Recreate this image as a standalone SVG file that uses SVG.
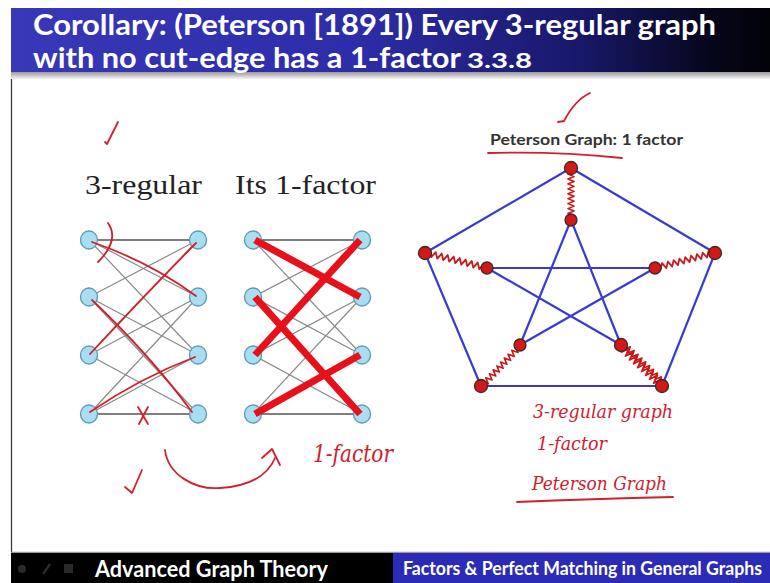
<svg xmlns="http://www.w3.org/2000/svg" width="770" height="583" viewBox="0 0 770 583">
<defs>
<linearGradient id="titleGrad" x1="0" y1="0" x2="1" y2="0">
<stop offset="0" stop-color="#3838b8"/>
<stop offset="0.45" stop-color="#2d2daa"/>
<stop offset="0.75" stop-color="#18186a"/>
<stop offset="0.92" stop-color="#06061c"/>
<stop offset="1" stop-color="#020208"/>
</linearGradient>
<linearGradient id="shadowGrad" x1="0" y1="0" x2="0" y2="1">
<stop offset="0" stop-color="#9a9a9a"/>
<stop offset="1" stop-color="#f4f4f4"/>
</linearGradient>
<path id="zz" d="M0 0 L2 -3 L5 3 L8 -3 L11 3 L14 -3 L17 3 L20 -3 L23 3 L26 -3 L29 3 L32 -3 L35 3 L38 -3 L41 3 L44 -3 L47 3 L50 -3 L53 3 L56 -3 L58 2 L60 0"/>
</defs>
<style>
.title{font-family:Lato,"Open Sans",sans-serif;font-weight:bold;fill:#ffffff}
.serif{font-family:"Liberation Serif","Times New Roman",serif;fill:#222222}
.hand{font-family:"DejaVu Serif","Liberation Serif",serif;font-style:italic;fill:#d0202c}
.ink{fill:none;stroke:#d0202c;stroke-width:1.8;stroke-linecap:round;stroke-linejoin:round}
.gedge{stroke:#8a8a8a;stroke-width:1.2}
.hedge{stroke:#555555;stroke-width:1.6}
.bnode{fill:#a9def2;stroke:#5f9cb3;stroke-width:1.4}
.fact{stroke:#e8101a;stroke-width:7}
.pedge{stroke:#3a3ad2;stroke-width:2.2}
.pnode{fill:#d41818;stroke:#3a2a2a;stroke-width:1.3}
.spoke{fill:none;stroke:#c81a1a;stroke-width:1.8;stroke-linejoin:round}
</style>
<rect width="770" height="583" fill="#ffffff"/>
<!-- title bar -->
<rect x="11" y="8" width="759" height="64" fill="url(#titleGrad)"/>
<rect x="11" y="72" width="759" height="7" fill="url(#shadowGrad)"/>
<text class="title" x="33" y="35" font-size="29" textLength="683" lengthAdjust="spacingAndGlyphs">Corollary: (Peterson [1891]) Every 3-regular graph</text>
<text class="title" x="33" y="68" font-size="29" textLength="428" lengthAdjust="spacingAndGlyphs">with no cut-edge has a 1-factor</text>
<text class="title" x="467" y="68" font-size="20" textLength="65" lengthAdjust="spacingAndGlyphs">3.3.8</text>
<!-- content border -->
<line x1="11.5" y1="79" x2="11.5" y2="552" stroke="#333333" stroke-width="1.2"/>
<line x1="11" y1="552.5" x2="770" y2="552.5" stroke="#9a9a9a" stroke-width="1.5"/>
<!-- bottom bar -->
<rect x="11" y="553" width="382" height="30" fill="#000000"/>
<rect x="393" y="553" width="377" height="30" fill="#2b2bb6"/>
<circle cx="22" cy="569" r="4" fill="#2a2a2a"/>
<line x1="43" y1="574" x2="50" y2="564" stroke="#2a2a2a" stroke-width="2.5"/>
<rect x="64" y="564" width="9" height="9" fill="#2a2a2a"/>
<text class="title" x="95" y="577" font-size="23" textLength="233" lengthAdjust="spacingAndGlyphs">Advanced Graph Theory</text>
<text class="title" x="403" y="575" font-size="18" textLength="359" lengthAdjust="spacingAndGlyphs">Factors &amp; Perfect Matching in General Graphs</text>

<!-- left graph labels -->
<text class="serif" x="85" y="194" font-size="28" textLength="117" lengthAdjust="spacingAndGlyphs">3-regular</text>
<text class="serif" x="235" y="194" font-size="28" textLength="141" lengthAdjust="spacingAndGlyphs">Its 1-factor</text>

<!-- connectors -->
<g id="connectors">
<g id="edges-3regular">
<line class="hedge" x1="89" y1="240" x2="198" y2="240"/>
<line class="gedge" x1="89" y1="240" x2="198" y2="297"/>
<line class="gedge" x1="89" y1="240" x2="198" y2="355"/>
<line class="gedge" x1="89" y1="297" x2="198" y2="240"/>
<line class="gedge" x1="89" y1="297" x2="198" y2="355"/>
<line class="gedge" x1="89" y1="297" x2="198" y2="414"/>
<line class="gedge" x1="89" y1="355" x2="198" y2="240"/>
<line class="gedge" x1="89" y1="355" x2="198" y2="297"/>
<line class="gedge" x1="89" y1="355" x2="198" y2="414"/>
<line class="gedge" x1="89" y1="414" x2="198" y2="297"/>
<line class="gedge" x1="89" y1="414" x2="198" y2="355"/>
<line class="hedge" x1="89" y1="414" x2="198" y2="414"/>
</g>
<g id="edges-1factor">
<line class="hedge" x1="253" y1="240" x2="362" y2="240"/>
<line class="gedge" x1="253" y1="240" x2="362" y2="297"/>
<line class="gedge" x1="253" y1="240" x2="362" y2="355"/>
<line class="gedge" x1="253" y1="297" x2="362" y2="240"/>
<line class="gedge" x1="253" y1="297" x2="362" y2="355"/>
<line class="gedge" x1="253" y1="297" x2="362" y2="414"/>
<line class="gedge" x1="253" y1="355" x2="362" y2="240"/>
<line class="gedge" x1="253" y1="355" x2="362" y2="297"/>
<line class="gedge" x1="253" y1="355" x2="362" y2="414"/>
<line class="gedge" x1="253" y1="414" x2="362" y2="297"/>
<line class="gedge" x1="253" y1="414" x2="362" y2="355"/>
<line class="hedge" x1="253" y1="414" x2="362" y2="414"/>
</g>
<g id="edges-petersen">
<line class="pedge" x1="571" y1="168" x2="425" y2="253"/>
<line class="pedge" x1="425" y1="253" x2="481" y2="386"/>
<line class="pedge" x1="481" y1="386" x2="662" y2="386"/>
<line class="pedge" x1="662" y1="386" x2="715" y2="253"/>
<line class="pedge" x1="715" y1="253" x2="571" y2="168"/>
<line class="pedge" x1="571" y1="220" x2="520" y2="345"/>
<line class="pedge" x1="571" y1="220" x2="621" y2="345"/>
<line class="pedge" x1="487" y1="268" x2="655" y2="268"/>
<line class="pedge" x1="487" y1="268" x2="621" y2="345"/>
<line class="pedge" x1="655" y1="268" x2="520" y2="345"/>
<use href="#zz" class="spoke" transform="translate(571,170) rotate(90) scale(0.82,1)"/>
<use href="#zz" class="spoke" transform="translate(427,253) rotate(14) scale(1.03,1)"/>
<use href="#zz" class="spoke" transform="translate(655,268) rotate(-14.5) scale(1,1)"/>
<use href="#zz" class="spoke" transform="translate(483,385) rotate(-46.5) scale(0.9,1)"/>
<use href="#zz" class="spoke" transform="translate(621,346) rotate(44) scale(0.93,1.3)"/>
<use href="#zz" class="spoke" transform="translate(623,344) rotate(44) scale(0.9,1)"/>
</g>
</g>

<!-- nodes: 3-regular -->
<g id="a-L1"><ellipse class="bnode" cx="89" cy="240" rx="8.5" ry="9"/></g>
<g id="a-L2"><ellipse class="bnode" cx="89" cy="297" rx="8.5" ry="9"/></g>
<g id="a-L3"><ellipse class="bnode" cx="89" cy="355" rx="8.5" ry="9"/></g>
<g id="a-L4"><ellipse class="bnode" cx="89" cy="414" rx="8.5" ry="9"/></g>
<g id="a-R1"><ellipse class="bnode" cx="198" cy="240" rx="8.5" ry="9"/></g>
<g id="a-R2"><ellipse class="bnode" cx="198" cy="297" rx="8.5" ry="9"/></g>
<g id="a-R3"><ellipse class="bnode" cx="198" cy="355" rx="8.5" ry="9"/></g>
<g id="a-R4"><ellipse class="bnode" cx="198" cy="414" rx="8.5" ry="9"/></g>
<!-- nodes: 1-factor -->
<g id="b-L1"><ellipse class="bnode" cx="253" cy="240" rx="8.5" ry="9"/></g>
<g id="b-L2"><ellipse class="bnode" cx="253" cy="297" rx="8.5" ry="9"/></g>
<g id="b-L3"><ellipse class="bnode" cx="253" cy="355" rx="8.5" ry="9"/></g>
<g id="b-L4"><ellipse class="bnode" cx="253" cy="414" rx="8.5" ry="9"/></g>
<g id="b-R1"><ellipse class="bnode" cx="362" cy="240" rx="8.5" ry="9"/></g>
<g id="b-R2"><ellipse class="bnode" cx="362" cy="297" rx="8.5" ry="9"/></g>
<g id="b-R3"><ellipse class="bnode" cx="362" cy="355" rx="8.5" ry="9"/></g>
<g id="b-R4"><ellipse class="bnode" cx="362" cy="414" rx="8.5" ry="9"/></g>

<!-- 1-factor thick red edges -->
<g id="factor-edges">
<line class="fact" x1="255" y1="240" x2="360" y2="297"/>
<line class="fact" x1="255" y1="297" x2="360" y2="414"/>
<line class="fact" x1="255" y1="355" x2="360" y2="240"/>
<line class="fact" x1="255" y1="414" x2="360" y2="355"/>
</g>

<!-- handwritten red on 3-regular -->
<g id="ink-left">
<path class="ink" d="M92,242 Q150,262 196,296"/>
<path class="ink" d="M90,354 Q140,300 196,243"/>
<path class="ink" d="M92,300 Q150,355 192,412"/>
<path class="ink" d="M90,412 Q140,378 195,357"/>
<path class="ink" d="M108,223 Q120,240 98,262"/>
<path class="ink" d="M138,407 L148,424 M148,407 L139,424"/>
<path class="ink" d="M105,142 L107,144 L118,122"/>
<path class="ink" d="M125,487 L132,493 L142,470"/>
<path class="ink" d="M165,450 C168,475 195,490 220,488 C250,486 268,475 275,458"/>
<path class="ink" d="M262,458 L272,449 L280,465"/>
<text class="hand" x="313" y="462" font-size="24" textLength="80" lengthAdjust="spacingAndGlyphs">1-factor</text>
</g>

<!-- Petersen nodes -->
<g id="p-T"><circle class="pnode" cx="571" cy="168" r="6.5"/></g>
<g id="p-L"><circle class="pnode" cx="425" cy="253" r="6.5"/></g>
<g id="p-R"><circle class="pnode" cx="715" cy="253" r="6.5"/></g>
<g id="p-BL"><circle class="pnode" cx="481" cy="386" r="6.5"/></g>
<g id="p-BR"><circle class="pnode" cx="662" cy="386" r="6.5"/></g>
<g id="p-t"><circle class="pnode" cx="571" cy="220" r="6"/></g>
<g id="p-l"><circle class="pnode" cx="487" cy="268" r="6"/></g>
<g id="p-r"><circle class="pnode" cx="655" cy="268" r="6"/></g>
<g id="p-bl"><circle class="pnode" cx="520" cy="345" r="6"/></g>
<g id="p-br"><circle class="pnode" cx="621" cy="345" r="6.5"/></g>

<!-- Petersen title and annotations -->
<text x="490" y="145" font-family="Lato,'Open Sans',sans-serif" font-weight="bold" font-size="15" fill="#333333" textLength="193" lengthAdjust="spacingAndGlyphs">Peterson Graph: 1 factor</text>
<g id="ink-right">
<path class="ink" d="M488,153 Q555,151 622,158"/>
<path class="ink" d="M558,122 L564,121 Q575,100 590,93"/>
<text class="hand" x="533" y="418" font-size="19" textLength="140" lengthAdjust="spacingAndGlyphs">3-regular graph</text>
<text class="hand" x="537" y="450" font-size="19" textLength="70" lengthAdjust="spacingAndGlyphs">1-factor</text>
<text class="hand" x="532" y="490" font-size="19" textLength="135" lengthAdjust="spacingAndGlyphs">Peterson Graph</text>
<path class="ink" d="M517,502 Q590,499 673,497"/>
</g>
</svg>
